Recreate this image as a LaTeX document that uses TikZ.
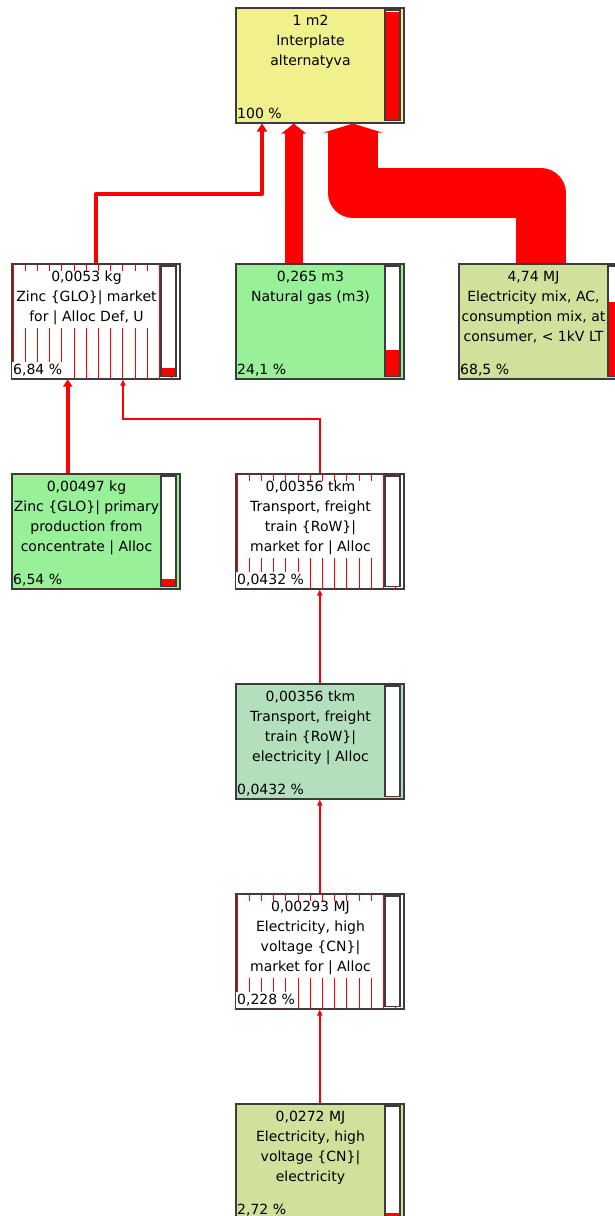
\documentclass[tikz,border=0pt]{standalone}
\usepackage{fontspec}
\setmainfont{DejaVu Sans}
\usepackage{xcolor}
\usepackage{tikz}
\usetikzlibrary{arrows.meta}
\pgfdeclarelayer{nodelayer}
\pgfdeclarelayer{edgelayer}
\pgfsetlayers{nodelayer, edgelayer, main}

\definecolor{boxyellow}{HTML}{F0F08C}
\definecolor{boxgreen}{HTML}{98F098}
\definecolor{boxolive}{HTML}{D0E19B}
\definecolor{boxmint}{HTML}{B3DFBC}
\definecolor{boxline}{HTML}{3C3C3C}
\definecolor{flowred}{HTML}{FF0000}

\tikzset{
	proc/.style={draw=boxline, line width=1.5pt, anchor=north west, minimum width=168pt, minimum height=115pt, inner sep=0pt},
	hatch/.style={draw=flowred, line width=1pt},
	proctext/.style={anchor=north, align=center, inner xsep=1pt, inner ysep=0pt, font=\fontsize{14}{20}\selectfont, execute at begin node=\strut},
	procpct/.style={anchor=base west, inner xsep=1pt, inner ysep=2pt, font=\fontsize{14}{20}\selectfont},
	bar/.style={draw=boxline, line width=1.5pt, fill=white},
	flow/.style={draw=flowred, line join=round},
	thinflow/.style={draw=flowred, line width=1.5pt, -{Triangle[width=5pt,length=6pt]}},
}

\def\whitebg{white}
% name, left, top, box fill, text background, text, percent, bar share
\newcommand{\procbox}[8]{%
	\node[proc, fill=#4] (#1) at (#2,#3) {};
	\def\thisbg{#5}%
	\ifx\thisbg\whitebg
		\foreach \i in {0,...,13}
			\draw[hatch] ([xshift=2pt+\i*12.2pt, yshift=-0.75pt]#1.north west) -- ([xshift=2pt+\i*12.2pt, yshift=0.75pt]#1.south west);
	\fi
	\node[proctext, fill=#5] at ([xshift=75.5pt, yshift=-8pt]#1.north west) {#6};
	\node[procpct, fill=#5] at ([xshift=1pt, yshift=5pt]#1.south west) {#7};
	\draw[bar] ([xshift=150pt, yshift=-3pt]#1.north west) rectangle ([xshift=165pt, yshift=3pt]#1.south west);
	\fill[flowred] ([xshift=150.75pt, yshift=3.75pt]#1.south west) rectangle ++(13.5, -107.5*#8);
}

\begin{document}
\begin{tikzpicture}[x=1pt, y=-1pt]
	\useasboundingbox (0,0) rectangle (615,1216);
	\begin{pgfonlayer}{nodelayer}
		\procbox{tot}{235}{7}{boxyellow}{none}{1 m2\\Interplate\\alternatyva}{100 \%}{1}
		\procbox{zinc}{11}{263}{white}{white}{0,0053 kg\\Zinc \{GLO\}| market\\for | Alloc Def, U}{6,84 \%}{0.0684}
		\procbox{gas}{235}{263}{boxgreen}{none}{0,265 m3\\Natural gas (m3)}{24,1 \%}{0.241}
		\procbox{elmix}{458}{263}{boxolive}{none}{4,74 MJ\\Electricity mix, AC,\\consumption mix, at\\consumer, < 1kV LT}{68,5 \%}{0.685}
		\procbox{zincprim}{11}{473}{boxgreen}{none}{0,00497 kg\\Zinc \{GLO\}| primary\\production from\\concentrate | Alloc}{6,54 \%}{0.0654}
		\procbox{trmkt}{235}{473}{white}{white}{0,00356 tkm\\Transport, freight\\train \{RoW\}|\\market for | Alloc}{0,0432 \%}{0}
		\procbox{trel}{235}{683}{boxmint}{none}{0,00356 tkm\\Transport, freight\\train \{RoW\}|\\electricity | Alloc}{0,0432 \%}{0}
		\procbox{hvmkt}{235}{893}{white}{white}{0,00293 MJ\\Electricity, high\\voltage \{CN\}|\\market for | Alloc}{0,228 \%}{0}
		\procbox{hvel}{235}{1103}{boxolive}{none}{0,0272 MJ\\Electricity, high\\voltage \{CN\}|\\electricity}{2,72 \%}{0.0272}
	\end{pgfonlayer}
	\begin{pgfonlayer}{edgelayer}
		\coordinate (zincbend) at (262,194);
		\coordinate (elbend) at (353,193);
		\coordinate (trbend) at (123,419);
		\draw[flow, line width=4pt, -{Triangle[width=10pt,length=8pt]}] (zinc.north) |- (zincbend) -- (zincbend |- tot.south);
		\draw[flow, line width=18pt, -{Triangle[width=24pt,length=10pt]}] ([xshift=-26pt]gas.north) -- ([xshift=-26pt]tot.south);
		\draw[flow, line width=50pt, -{Triangle[width=58pt,length=9pt]}] ([xshift=-2pt]elmix.north) |- (elbend) -- (elbend |- tot.south);
		\draw[flow, line width=4pt, -{Triangle[width=9pt,length=7pt]}] ([xshift=-28pt]zincprim.north) -- ([xshift=-28pt]zinc.south);
		\draw[thinflow] (trmkt.north) |- (trbend) -- (trbend |- zinc.south);
		\draw[thinflow] (trel.north) -- (trmkt.south);
		\draw[thinflow] (hvmkt.north) -- (trel.south);
		\draw[thinflow] (hvel.north) -- (hvmkt.south);
	\end{pgfonlayer}
\end{tikzpicture}
\end{document}
